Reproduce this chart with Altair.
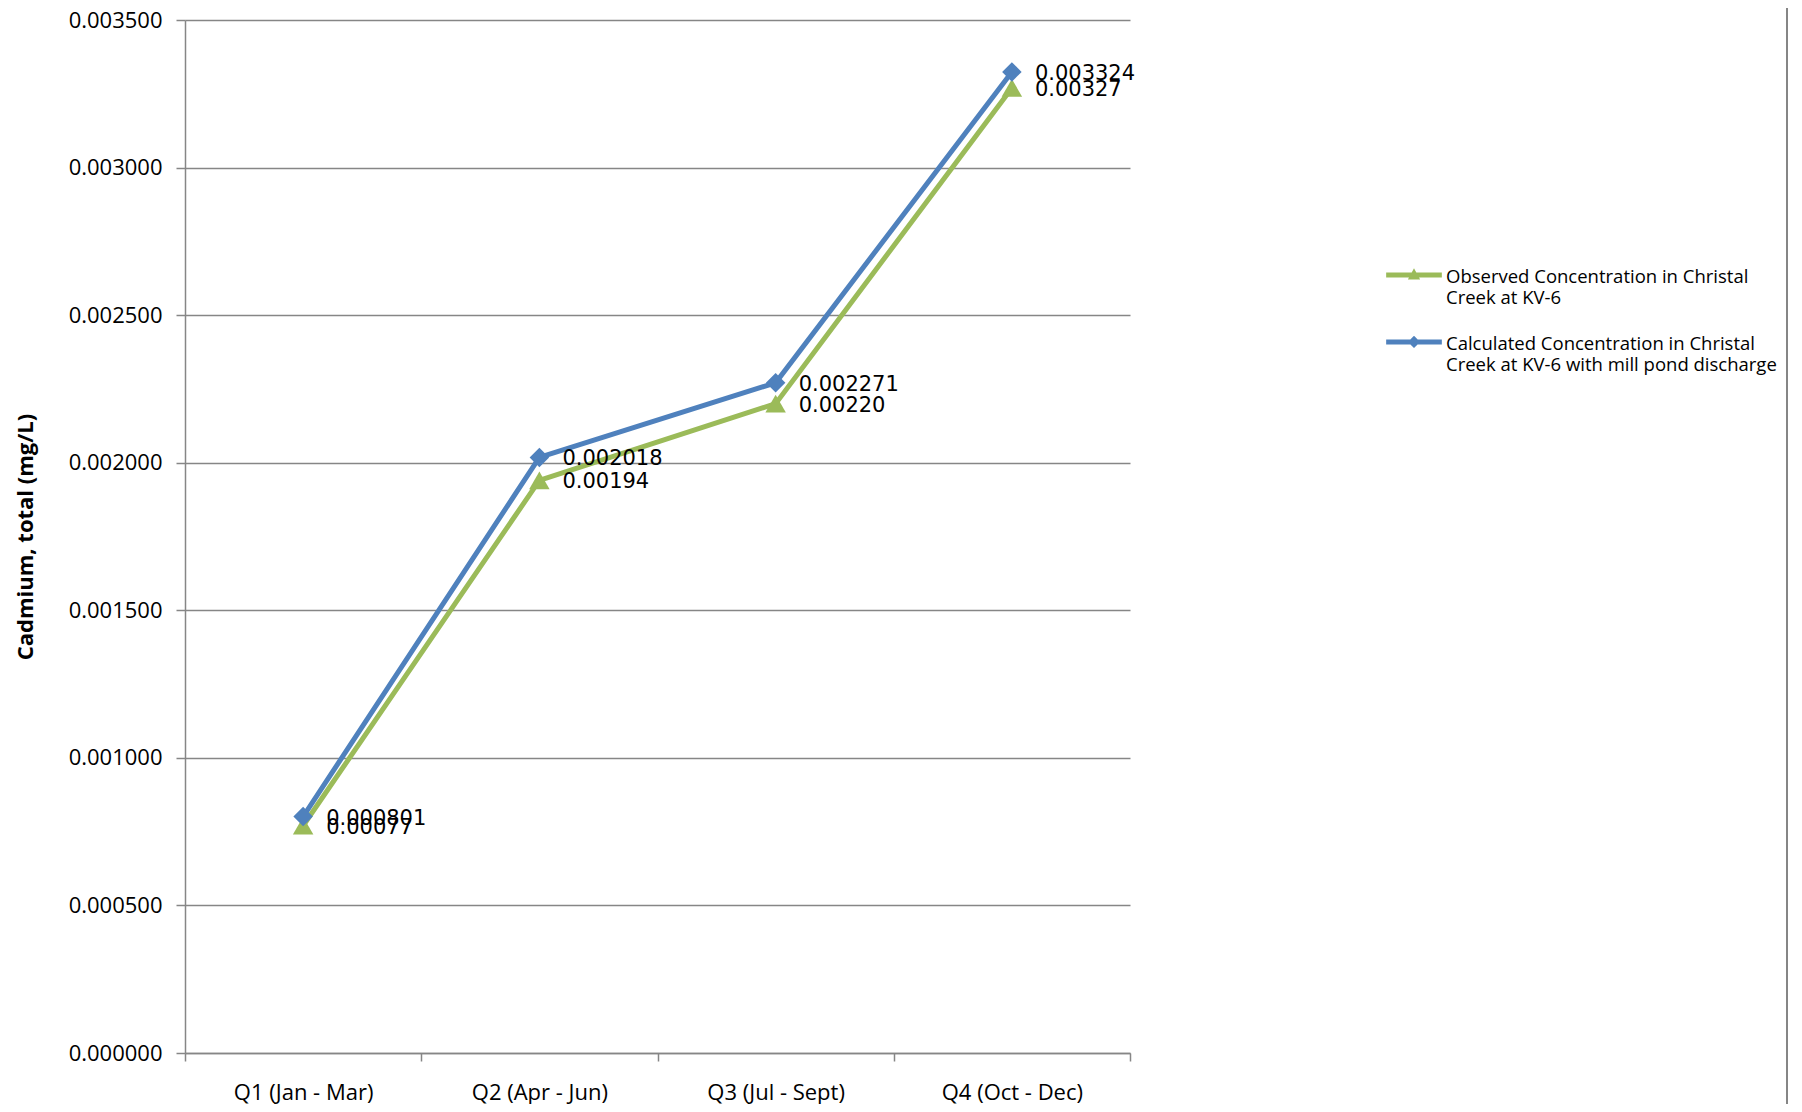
import altair as alt
import pandas as pd

quarters = ["Q1 (Jan - Mar)", "Q2 (Apr - Jun)", "Q3 (Jul - Sept)", "Q4 (Oct - Dec)"]
observed = [0.00077, 0.00194, 0.00220, 0.00327]
calculated = [0.000801, 0.002018, 0.002271, 0.003324]
series = [
    "Observed Concentration in Christal\nCreek at KV-6",
    "Calculated Concentration in Christal\nCreek at KV-6 with mill pond discharge",
]
colors = ["#9BBB59", "#4F81BD"]

rows = []
for q, v in zip(quarters, observed):
    rows.append({"Quarter": q, "Value": v, "Series": series[0], "Label": f"{v:.5f}"})
for q, v in zip(quarters, calculated):
    rows.append({"Quarter": q, "Value": v, "Series": series[1], "Label": f"{v:.6f}"})
df = pd.DataFrame(rows)

FONT = "Open Sans"
GRAY = "#868686"

x = alt.X("Quarter:N", sort=quarters, title=None,
          axis=alt.Axis(labelAngle=0, labelFontSize=22, labelFont=FONT, labelColor="black",
                        tickBand="extent", tickSize=8, tickColor=GRAY, tickWidth=1.5,
                        domainColor=GRAY, domainWidth=1.5, labelPadding=21, grid=False))
y = alt.Y("Value:Q", title="Cadmium, total (mg/L)",
          scale=alt.Scale(domain=[0, 0.0035], nice=False),
          axis=alt.Axis(values=[0, 0.0005, 0.001, 0.0015, 0.002, 0.0025, 0.003, 0.0035],
                        format=".6f", labelFontSize=22, labelFont=FONT, labelColor="black",
                        tickSize=9, tickColor=GRAY, tickWidth=1.5, labelPadding=14,
                        domainColor=GRAY, domainWidth=1.5,
                        grid=True, gridColor=GRAY, gridWidth=1.5,
                        titleFont=FONT, titleFontSize=22, titleFontWeight="bold",
                        titleColor="black", titleX=-148))

obs_path = "M-1,0.16L1,0.16L1,0.34L-1,0.34Z M0,0.01L0.22,0.41L-0.22,0.41Z"
calc_path = "M-1,0.16L1,0.16L1,0.34L-1,0.34Z M0,0.03L0.22,0.25L0,0.47L-0.22,0.25Z"

legend = alt.Legend(title=None, orient="none", legendX=1201, legendY=220,
                    symbolSize=3100, symbolStrokeWidth=0, symbolOpacity=1,
                    labelFont=FONT, labelFontSize=18.5, labelColor="black",
                    labelLimit=500, labelExpr="split(datum.label, '\\n')",
                    labelOffset=4, rowPadding=0, labelBaseline="top")

color = alt.Color("Series:N", scale=alt.Scale(domain=series, range=colors), legend=legend)

base = alt.Chart(df)

lines = base.mark_line(strokeWidth=5).encode(
    x=x, y=y, color=color, detail="Series:N")

tri = base.transform_filter(alt.datum.Series == series[0]).mark_point(
    shape="triangle-up", filled=True, size=420, opacity=1).encode(x=x, y=y, color=color)
dia = base.transform_filter(alt.datum.Series == series[1]).mark_point(
    shape="diamond", filled=True, size=380, opacity=1).encode(x=x, y=y, color=color)

labels = base.mark_text(align="left", baseline="middle", dx=23, dy=2,
                        font="DejaVu Sans", fontSize=21, color="black").encode(
    x=x, y=y, text="Label:N")

legend_layer = base.transform_filter("false").mark_point(filled=True, opacity=1).encode(
    color=color,
    shape=alt.Shape("Series:N", scale=alt.Scale(domain=series, range=[obs_path, calc_path]),
                    legend=legend),
)

border = alt.Chart(pd.DataFrame({"a": [0]})).mark_rule(color=GRAY, strokeWidth=2).encode(
    x=alt.value(1602), y=alt.value(-12), y2=alt.value(1084))

chart = alt.layer(lines, tri, dia, labels, legend_layer, border).properties(
    width=945, height=1033,
    autosize=alt.AutoSizeParams(type="none"),
    padding={"left": 177, "top": 12, "right": 662, "bottom": 51},
).configure_view(stroke=None)

chart.save("out.html", embed_options={"renderer": "svg", "actions": False})
